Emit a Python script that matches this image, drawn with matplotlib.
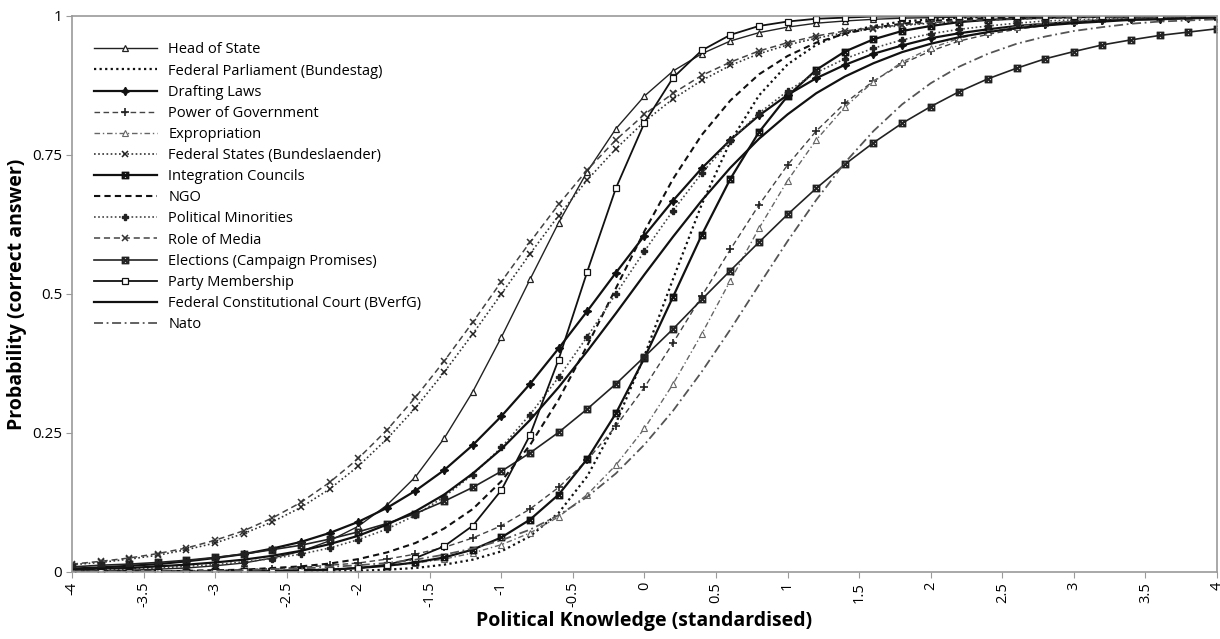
import matplotlib
matplotlib.use('agg')
import matplotlib.pyplot as plt

plt.rcParams['font.family'] = ['Open Sans', 'DejaVu Sans']

# political knowledge (standardised), one point every 0.2
knowledge = [-4.0, -3.8, -3.6, -3.4, -3.2, -3.0, -2.8, -2.6, -2.4, -2.2, -2.0,
             -1.8, -1.6, -1.4, -1.2, -1.0, -0.8, -0.6, -0.4, -0.2, 0.0,
             0.2, 0.4, 0.6, 0.8, 1.0, 1.2, 1.4, 1.6, 1.8, 2.0,
             2.2, 2.4, 2.6, 2.8, 3.0, 3.2, 3.4, 3.6, 3.8, 4.0]

head_of_state = [0.001, 0.002, 0.003, 0.005, 0.007, 0.011, 0.016, 0.025, 0.037, 0.056, 0.082,
                 0.120, 0.171, 0.240, 0.324, 0.422, 0.526, 0.628, 0.720, 0.797, 0.856,
                 0.901, 0.932, 0.955, 0.970, 0.980, 0.987, 0.991, 0.994, 0.996, 0.997,
                 0.998, 0.999, 0.999, 0.999, 1.0, 1.0, 1.0, 1.0, 1.0, 1.0]
federal_parliament = [0.000, 0.000, 0.000, 0.000, 0.000, 0.000, 0.000, 0.000, 0.001, 0.001, 0.002,
                      0.004, 0.007, 0.013, 0.022, 0.037, 0.064, 0.106, 0.172, 0.267, 0.389,
                      0.527, 0.661, 0.774, 0.857, 0.913, 0.948, 0.970, 0.982, 0.990, 0.994,
                      0.997, 0.998, 0.999, 0.999, 1.0, 1.0, 1.0, 1.0, 1.0, 1.0]
drafting_laws = [0.006, 0.008, 0.011, 0.014, 0.019, 0.025, 0.032, 0.042, 0.054, 0.070, 0.090,
                 0.115, 0.146, 0.183, 0.228, 0.280, 0.338, 0.402, 0.469, 0.538, 0.605,
                 0.668, 0.726, 0.777, 0.821, 0.858, 0.888, 0.912, 0.932, 0.947, 0.960,
                 0.969, 0.976, 0.982, 0.986, 0.989, 0.992, 0.994, 0.995, 0.996, 0.997]
power_of_government = [0.001, 0.001, 0.001, 0.002, 0.002, 0.003, 0.004, 0.006, 0.008, 0.012, 0.016,
                       0.023, 0.032, 0.044, 0.061, 0.083, 0.113, 0.152, 0.201, 0.262, 0.332,
                       0.412, 0.496, 0.580, 0.660, 0.732, 0.793, 0.843, 0.883, 0.914, 0.937,
                       0.955, 0.967, 0.976, 0.983, 0.988, 0.991, 0.994, 0.996, 0.997, 0.998]
expropriation = [0.000, 0.000, 0.000, 0.001, 0.001, 0.001, 0.002, 0.002, 0.004, 0.005, 0.007,
                 0.011, 0.016, 0.023, 0.034, 0.049, 0.070, 0.099, 0.139, 0.192, 0.258,
                 0.338, 0.428, 0.524, 0.618, 0.704, 0.777, 0.836, 0.882, 0.917, 0.942,
                 0.960, 0.972, 0.981, 0.987, 0.991, 0.994, 0.996, 0.997, 0.998, 0.999]
federal_states = [0.013, 0.017, 0.023, 0.030, 0.040, 0.052, 0.069, 0.090, 0.116, 0.149, 0.190,
                  0.239, 0.295, 0.359, 0.428, 0.500, 0.572, 0.641, 0.705, 0.761, 0.810,
                  0.851, 0.884, 0.911, 0.932, 0.948, 0.960, 0.970, 0.977, 0.983, 0.987,
                  0.990, 0.993, 0.995, 0.996, 0.997, 0.998, 0.998, 0.999, 0.999, 0.999]
integration_councils = [0.000, 0.000, 0.000, 0.000, 0.000, 0.001, 0.001, 0.002, 0.003, 0.004, 0.007,
                        0.011, 0.017, 0.026, 0.040, 0.062, 0.094, 0.139, 0.203, 0.285, 0.385,
                        0.495, 0.606, 0.707, 0.791, 0.856, 0.903, 0.936, 0.958, 0.973, 0.982,
                        0.989, 0.993, 0.995, 0.997, 0.998, 0.999, 0.999, 1.0, 1.0, 1.0]
ngo = [0.000, 0.001, 0.001, 0.001, 0.002, 0.003, 0.004, 0.007, 0.010, 0.015, 0.023,
       0.035, 0.052, 0.078, 0.113, 0.163, 0.228, 0.310, 0.407, 0.510, 0.613,
       0.707, 0.786, 0.848, 0.895, 0.928, 0.952, 0.968, 0.979, 0.986, 0.991,
       0.994, 0.996, 0.997, 0.998, 0.999, 0.999, 0.999, 1.0, 1.0, 1.0]
political_minorities = [0.003, 0.004, 0.005, 0.007, 0.010, 0.013, 0.018, 0.024, 0.032, 0.043, 0.058,
                        0.077, 0.102, 0.135, 0.175, 0.224, 0.283, 0.350, 0.423, 0.500, 0.577,
                        0.650, 0.717, 0.776, 0.825, 0.865, 0.898, 0.923, 0.942, 0.957, 0.968,
                        0.976, 0.982, 0.987, 0.991, 0.993, 0.995, 0.996, 0.997, 0.998, 0.999]
role_of_media = [0.014, 0.019, 0.025, 0.033, 0.043, 0.057, 0.074, 0.097, 0.125, 0.161, 0.204,
                 0.255, 0.314, 0.379, 0.449, 0.522, 0.593, 0.661, 0.723, 0.777, 0.823,
                 0.861, 0.893, 0.917, 0.937, 0.952, 0.964, 0.973, 0.979, 0.984, 0.988,
                 0.991, 0.993, 0.995, 0.996, 0.997, 0.998, 0.998, 0.999, 0.999, 0.999]
elections = [0.009, 0.012, 0.014, 0.017, 0.021, 0.026, 0.032, 0.040, 0.048, 0.059, 0.072,
             0.087, 0.105, 0.127, 0.152, 0.181, 0.214, 0.251, 0.293, 0.338, 0.387,
             0.437, 0.490, 0.542, 0.593, 0.643, 0.690, 0.733, 0.772, 0.807, 0.837,
             0.864, 0.887, 0.906, 0.923, 0.936, 0.948, 0.957, 0.965, 0.971, 0.977]
party_membership = [0.000, 0.000, 0.000, 0.000, 0.000, 0.000, 0.001, 0.001, 0.002, 0.004, 0.007,
                    0.013, 0.025, 0.046, 0.083, 0.147, 0.246, 0.382, 0.540, 0.690, 0.808,
                    0.889, 0.938, 0.966, 0.982, 0.990, 0.995, 0.997, 0.999, 0.999, 1.0,
                    1.0, 1.0, 1.0, 1.0, 1.0, 1.0, 1.0, 1.0, 1.0, 1.0]
constitutional_court = [0.004, 0.006, 0.007, 0.010, 0.013, 0.017, 0.022, 0.029, 0.038, 0.050, 0.065,
                        0.085, 0.109, 0.139, 0.177, 0.221, 0.273, 0.332, 0.397, 0.465, 0.535,
                        0.603, 0.668, 0.727, 0.779, 0.823, 0.861, 0.891, 0.915, 0.935, 0.950,
                        0.962, 0.971, 0.978, 0.983, 0.987, 0.990, 0.993, 0.994, 0.996, 0.997]
nato = [0.001, 0.001, 0.001, 0.001, 0.002, 0.002, 0.003, 0.005, 0.006, 0.009, 0.012,
        0.016, 0.022, 0.031, 0.042, 0.057, 0.076, 0.102, 0.135, 0.177, 0.229,
        0.290, 0.360, 0.436, 0.516, 0.595, 0.669, 0.736, 0.793, 0.841, 0.879,
        0.909, 0.932, 0.950, 0.963, 0.973, 0.980, 0.986, 0.990, 0.992, 0.994]

x_ticks = [-4, -3.5, -3, -2.5, -2, -1.5, -1, -0.5, 0, 0.5, 1, 1.5, 2, 2.5, 3, 3.5, 4]
y_ticks = [0, 0.25, 0.5, 0.75, 1]
y_tick_labels = ['0', '0.25', '0.5', '0.75', '1']

box_x = '$\\boxtimes$'
series = [
	('Head of State', head_of_state, dict(ls='-', lw=1.0, color='#222222', marker='^', ms=5, mfc='white', mec='#222222', mew=0.9)),
	('Federal Parliament (Bundestag)', federal_parliament, dict(ls=(0, (1, 1.5)), lw=1.6, color='#111111')),
	('Drafting Laws', drafting_laws, dict(ls='-', lw=1.6, color='#111111', marker=(4, 1, 0), ms=6, mfc='#111111', mec='#111111')),
	('Power of Government', power_of_government, dict(ls=(0, (4, 2.5)), lw=1.0, color='#444444', marker='+', ms=6, mew=1.2, mec='#222222')),
	('Expropriation', expropriation, dict(ls=(0, (4, 2, 1, 2)), lw=1.0, color='#666666', marker='^', ms=4, mfc='white', mec='#666666', mew=0.8)),
	('Federal States (Bundeslaender)', federal_states, dict(ls=(0, (1, 1.5)), lw=1.2, color='#333333', marker='x', ms=5, mew=1.1, mec='#222222')),
	('Integration Councils', integration_councils, dict(ls='-', lw=1.6, color='#111111', marker=box_x, ms=5, mew=0.6, mec='#111111', mfc='#111111')),
	('NGO', ngo, dict(ls=(0, (3, 2)), lw=1.5, color='#111111')),
	('Political Minorities', political_minorities, dict(ls=(0, (1, 1.5)), lw=1.2, color='#444444', marker='P', ms=5, mfc='#222222', mec='#222222')),
	('Role of Media', role_of_media, dict(ls=(0, (4, 2.5)), lw=1.1, color='#444444', marker='x', ms=5, mew=1.1, mec='#333333')),
	('Elections (Campaign Promises)', elections, dict(ls='-', lw=1.2, color='#222222', marker=box_x, ms=5, mew=0.6, mec='#222222', mfc='#222222')),
	('Party Membership', party_membership, dict(ls='-', lw=1.3, color='#111111', marker='s', ms=5, mfc='white', mec='#111111', mew=0.9)),
	('Federal Constitutional Court (BVerfG)', constitutional_court, dict(ls='-', lw=1.6, color='#111111')),
	('Nato', nato, dict(ls=(0, (5, 2, 1, 2)), lw=1.3, color='#555555')),
]

fig = plt.figure(figsize=(12.2, 6.39), dpi=100)
ax = fig.add_axes([0.059, 0.105, 0.9385, 0.87])

for name, values, style in series:
	ax.plot(knowledge, values, label=name, **style)

ax.set_xlim(-4, 4)
ax.set_ylim(0, 1)
ax.set_xticks(x_ticks)
ax.set_xticklabels([f'{t:g}' for t in x_ticks], rotation=90, fontsize=10.5)
ax.set_yticks(y_ticks)
ax.set_yticklabels(y_tick_labels, fontsize=11)
for side in ('left', 'right', 'top', 'bottom'):
	ax.spines[side].set_color('#9a9a9a')
	ax.spines[side].set_linewidth(1.2)
ax.tick_params(axis='both', direction='out', length=4, color='#9a9a9a', pad=3)

ax.set_xlabel('Political Knowledge (standardised)', fontsize=14, fontweight='bold', labelpad=3)
ax.set_ylabel('Probability (correct answer)', fontsize=14, fontweight='bold', labelpad=4)

ax.legend(loc='upper left', bbox_to_anchor=(0.014, 0.963), borderaxespad=0, frameon=False,
          fontsize=10.5, handlelength=4.3, handletextpad=0.8, labelspacing=0.42)

fig.savefig('out.png', dpi=100)
